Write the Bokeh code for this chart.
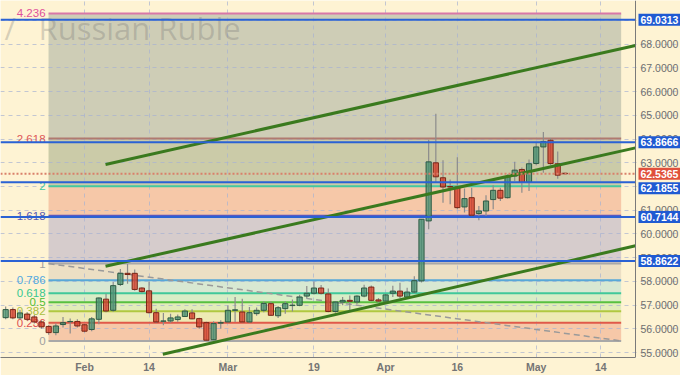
from bokeh.plotting import figure
from bokeh.models import Range1d, FixedTicker, PrintfTickFormatter, Label, ColumnDataSource
from bokeh.core.properties import value
from bokeh.embed import file_html
from bokeh.resources import INLINE

# ---------------- data ----------------
day_index = list(range(-11, 68))   # trading-day index, 0 = 1 Feb
opens = [56.47, 56.81, 56.46, 56.62, 56.50, 56.29, 56.10, 55.84, 56.18, 56.30, 56.31, 56.17, 55.97, 56.40, 57.25,
         56.78, 57.87, 58.34, 58.34, 57.72, 57.60, 56.68, 56.32, 56.33, 56.39, 56.52, 56.67, 56.43, 56.26, 55.54,
         56.24, 56.29, 56.78, 56.71, 56.29, 56.64, 56.78, 57.06, 56.55, 56.85, 56.98, 56.99, 57.38, 57.50, 57.72,
         57.47, 56.73, 57.13, 57.20, 57.13, 57.38, 57.76, 57.22, 57.17, 57.50, 57.59, 57.34, 57.55, 58.02, 60.55,
         63.00, 62.37, 62.00, 61.98, 61.14, 61.53, 60.86, 60.97, 61.45, 61.84, 61.53, 62.44, 62.72, 62.18, 62.97,
         63.67, 63.95, 62.96, 62.56]
highs = [56.94, 56.90, 56.80, 56.70, 56.58, 56.35, 56.15, 56.22, 56.50, 56.43, 56.40, 56.20, 56.50, 57.32, 57.48,
         57.97, 58.52, 58.73, 58.50, 57.75, 58.00, 56.85, 56.67, 56.64, 56.60, 56.82, 56.82, 56.47, 56.30, 56.32,
         56.36, 56.98, 57.34, 57.27, 56.92, 56.90, 57.15, 57.15, 56.96, 57.15, 57.24, 57.44, 57.80, 58.00, 57.85,
         57.70, 57.17, 57.34, 57.40, 57.42, 57.86, 57.83, 57.30, 57.47, 57.82, 57.94, 57.73, 58.22, 60.62, 63.97,
         65.07, 63.11, 62.30, 63.23, 61.92, 61.95, 61.18, 61.63, 62.05, 61.95, 62.51, 63.04, 62.80, 63.14, 63.86,
         64.30, 64.05, 63.48, 62.58]
lows = [56.40, 56.40, 56.40, 56.35, 56.22, 56.00, 55.75, 55.73, 56.05, 55.80, 56.05, 55.85, 55.90, 56.19, 56.70,
        56.72, 57.80, 57.90, 57.60, 57.52, 56.65, 56.25, 56.15, 56.26, 56.30, 56.50, 56.40, 56.00, 55.50, 55.52,
        56.00, 56.27, 56.29, 56.27, 56.25, 56.55, 56.70, 56.55, 56.46, 56.64, 56.73, 56.95, 57.30, 57.45, 57.45,
        56.70, 56.68, 56.99, 56.78, 57.05, 57.33, 57.15, 57.10, 57.10, 57.34, 57.30, 57.30, 57.50, 57.95, 60.20,
        62.16, 61.32, 61.25, 61.04, 60.90, 60.75, 60.58, 60.76, 61.04, 61.39, 61.50, 62.23, 61.74, 61.81, 62.90,
        62.58, 62.90, 62.33, 62.52]
closes = [56.81, 56.46, 56.67, 56.40, 56.29, 56.08, 55.84, 56.12, 56.26, 56.31, 56.12, 55.90, 56.42, 57.30, 56.75,
          57.82, 58.34, 58.29, 57.66, 57.57, 56.68, 56.29, 56.33, 56.46, 56.50, 56.75, 56.42, 56.08, 55.52, 56.22,
          56.26, 56.78, 56.80, 56.29, 56.68, 56.78, 57.07, 56.57, 56.89, 57.06, 57.00, 57.34, 57.50, 57.72, 57.50,
          56.73, 57.13, 57.20, 57.16, 57.38, 57.72, 57.20, 57.17, 57.43, 57.59, 57.38, 57.55, 58.03, 60.62, 63.04,
          62.41, 61.98, 61.98, 61.11, 61.49, 60.79, 60.97, 61.39, 61.84, 61.51, 62.41, 62.69, 62.18, 62.96, 63.67,
          63.90, 62.97, 62.48, 62.5365]

tick_pos = [0, 9, 20, 32, 42, 52, 63, 72]
tick_labels = ["Feb", "14", "Mar", "19", "Apr", "16", "May", "14"]
y_ticks = list(range(55, 70))

fib_ratios = [0, 0.236, 0.382, 0.5, 0.618, 0.786, 1, 1.618, 2, 2.618, 4.236]
fib_labels = ["0", "0.236", "0.382", "0.5", "0.618", "0.786", "1", "1.618", "2", "2.618", "4.236"]
fib_base = 55.49
fib_one = 58.75
fib_start = -5.02
fib_end = 74.85

price_levels = [69.0313, 63.8666, 62.1855, 60.7144, 58.8622]
price_texts = ["69.0313", "63.8666", "62.1855", "60.7144", "58.8622"]
last_price = 62.5365
last_text = "62.5365"

channel_x0 = [2.93, 2.93, 10.92]
channel_y0 = [62.93, 58.64, 54.93]
channel_x1 = [76.85, 76.85, 76.85]
channel_y1 = [67.95, 63.63, 59.50]

title_slash = "/"
title_text = "Russian Ruble"

# ---------------- style ----------------
X_MIN, X_AXIS = -11.72, 76.85          # X_AXIS = where the price axis sits (635 px)
Y_MIN, Y_MAX = 54.79, 69.845
PPX = 635 / (X_AXIS - X_MIN)
X_MAX = X_MIN + 680 / PPX
PPY = 359 / (Y_MAX - Y_MIN)
BG = "#FEF3D3"
FONT = "Liberation Sans"

zone_colors = ["#F6C8A8", "#EEEAB4", "#E2ECBA", "#D8EDC6", "#D8E8D2", "#ECDFC4",
               "#D6CCCC", "#F6C8A8", "#CBCBA8", "#CECDB6"]
fib_line_colors = ["#A8A8A8", "#E05A4A", "#B0C840", "#58C040", "#40C89A", "#58A8D8",
                   "#A8A8A8", "#5A58C0", "#44C8A0", "#B07A70", "#D877A8"]
fib_text_colors = ["#A0A0A0", "#E05050", "#A8C040", "#50C030", "#38C890", "#50A8E0",
                   "#A0A0A0", "#5858B0", "#40C8A0", "#E05858", "#E0509A"]
box_offsets = [0, 0, -6, 0, 0]

p = figure(width=680, height=375, x_range=Range1d(X_MIN, X_MAX), y_range=Range1d(Y_MIN, Y_MAX),
           y_axis_location="right", output_backend="svg", toolbar_location=None,
           min_border_left=0, min_border_top=0, min_border_right=0, min_border_bottom=16,
           background_fill_color=BG, border_fill_color=BG, outline_line_color=None)

# axes
p.yaxis.fixed_location = X_AXIS
p.yaxis.ticker = FixedTicker(ticks=y_ticks)
p.yaxis.formatter = PrintfTickFormatter(format="%.4f")
p.yaxis.major_label_text_font = FONT
p.yaxis.major_label_text_font_size = "10.5px"
p.yaxis.major_label_text_color = "#6E6E6E"
p.yaxis.major_label_standoff = 5
p.yaxis.major_tick_out = 0
p.yaxis.major_tick_in = 0
p.yaxis.minor_tick_line_color = None
p.yaxis.axis_line_color = "#7A7A7A"

p.xaxis.ticker = FixedTicker(ticks=tick_pos)
p.xaxis.bounds = (X_MIN, X_AXIS)
p.xaxis.major_label_overrides = {t: l for t, l in zip(tick_pos, tick_labels)}
p.xaxis.major_label_text_font = FONT
p.xaxis.major_label_text_font_size = "10.5px"
p.xaxis.major_label_text_font_style = "bold"
p.xaxis.major_label_text_color = "#757575"
p.xaxis.major_label_standoff = 3
p.xaxis.major_tick_out = 0
p.xaxis.major_tick_in = 0
p.xaxis.minor_tick_line_color = None
p.xaxis.axis_line_color = "#7A7A7A"

p.xgrid.ticker = FixedTicker(ticks=tick_pos)
for g in (p.xgrid, p.ygrid):
    g.grid_line_color = "#A8B2D2"
    g.grid_line_alpha = 0.7
    g.grid_line_dash = "4 4"
    g.grid_line_width = 1

# cream strip behind the price axis (hides grid there)
strip = p.quad(left=[X_AXIS], right=[X_MAX], bottom=[Y_MIN], top=[Y_MAX], fill_color=BG, line_color=None)
strip.level = "underlay"

# fib zones
lv = [fib_base + r * (fib_one - fib_base) for r in fib_ratios]
zones = p.quad(left=[fib_start] * 10, right=[fib_end] * 10, bottom=lv[:-1], top=lv[1:],
               fill_color=zone_colors, line_color=None)
zones.level = "image"

# watermark
wm_y = Y_MAX - 28 / PPY
p.text(x=[X_MIN + 4 / PPX, X_MIN + 38 / PPX], y=[wm_y, wm_y], text=[title_slash, title_text],
       text_font=value("Open Sans"), text_font_size="31px", text_color="#707070", text_alpha=0.28,
       text_baseline="middle")

# fib lines + labels
p.segment(x0=[fib_start] * 11, x1=[fib_end] * 11, y0=lv, y1=lv, line_color=fib_line_colors, line_width=2)
p.text(x=[fib_start - 3 / PPX] * 11, y=lv, text=fib_labels, text_color=fib_text_colors,
       text_font=value(FONT), text_font_size="11.5px", text_align="right", text_baseline="middle")

# fib diagonal
p.line(x=[fib_start, fib_end], y=[fib_one, fib_base], line_color="#9A9A9A", line_width=1.5,
       line_dash="6 4")

# candles
up = [c >= o for o, c in zip(opens, closes)]
src = ColumnDataSource(dict(
    x=day_index, o=opens, h=highs, l=lows, c=closes,
    top=[max(o, c) for o, c in zip(opens, closes)],
    bot=[min(o, c) for o, c in zip(opens, closes)],
    fill=["#3E8E6C" if u else "#D8331E" for u in up],
    edge=["#2E5A44" if u else "#7A2616" for u in up],
))
p.segment(x0="x", x1="x", y0="l", y1="h", source=src, line_color="#8C8C8C", line_width=1.2)
p.vbar(x="x", width=0.72, top="top", bottom="bot", source=src, fill_color="fill", fill_alpha=0.72,
       line_color="edge", line_width=1)

# channel lines
for x0, y0, x1, y1 in zip(channel_x0, channel_y0, channel_x1, channel_y1):
    p.line(x=[x0, x1], y=[y0, y1], line_color="#3A7A1E", line_width=3)

# horizontal price levels
n = len(price_levels)
p.segment(x0=[X_MIN] * n, x1=[X_AXIS] * n, y0=price_levels, y1=price_levels,
          line_color="#2A62D4", line_width=2)
p.segment(x0=[X_MIN], x1=[X_AXIS], y0=[last_price], y1=[last_price], line_color="#D9806A",
          line_width=2, line_dash="2 2")

# right-side price boxes
p.add_layout(Label(x=X_AXIS + 3 / PPX, y=last_price, text=last_text, text_baseline="middle",
                   text_align="left", text_font=FONT, text_font_size="10.5px", text_font_style="bold",
                   text_color="white", background_fill_color="#E0503C", padding=2))
for lvl, t, off in zip(price_levels, price_texts, box_offsets):
    p.add_layout(Label(x=X_AXIS + 3 / PPX, y=lvl, y_offset=off, text=t, text_baseline="middle",
                       text_align="left", text_font=FONT, text_font_size="10.5px", text_font_style="bold",
                       text_color="white", background_fill_color="#1F5AD2", padding=2))

open("out.html", "w").write(file_html(p, INLINE))
